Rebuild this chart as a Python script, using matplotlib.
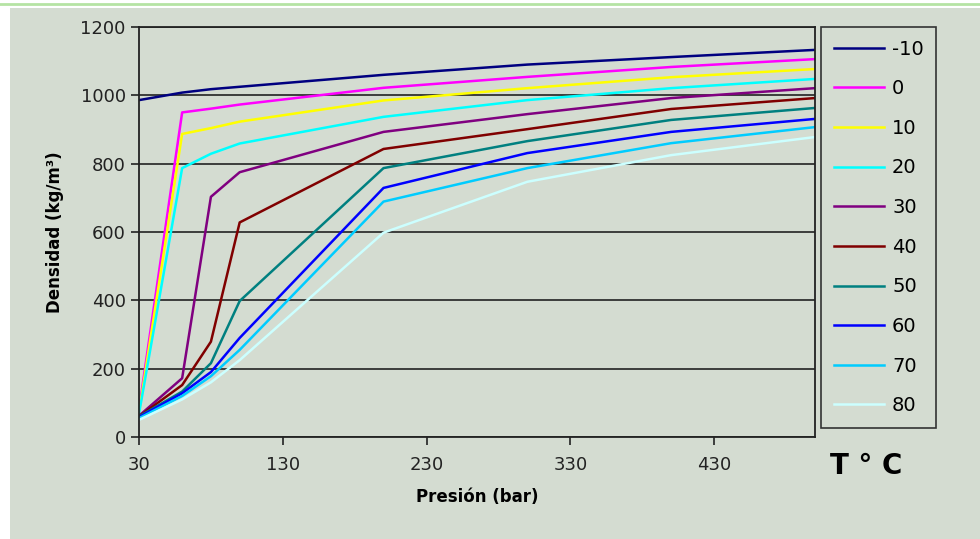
import matplotlib.pyplot as plt
import numpy as np
from matplotlib.patches import Rectangle
from matplotlib.lines import Line2D

# pressure points (bar)
presion = [30, 60, 80, 100, 200, 300, 400, 500]

temps = ['-10', '0', '10', '20', '30', '40', '50', '60', '70', '80']

# density (kg/m3) per temperature
dens_m10 = [986, 1008, 1018, 1025, 1060, 1090, 1112, 1133]
dens_0 = [80, 950, 961, 973, 1022, 1054, 1083, 1106]
dens_10 = [72, 887, 904, 923, 985, 1021, 1053, 1077]
dens_20 = [68, 787, 829, 859, 937, 986, 1021, 1048]
dens_30 = [62, 172, 703, 775, 893, 945, 992, 1021]
dens_40 = [60, 152, 279, 628, 843, 901, 960, 992]
dens_50 = [60, 133, 216, 398, 787, 866, 928, 963]
dens_60 = [58, 128, 190, 290, 729, 831, 893, 931]
dens_70 = [55, 120, 178, 255, 689, 787, 860, 907]
dens_80 = [50, 110, 160, 225, 598, 747, 825, 878]

series = [dens_m10, dens_0, dens_10, dens_20, dens_30,
          dens_40, dens_50, dens_60, dens_70, dens_80]
colores = ['#000080', '#ff00ff', '#ffff00', '#00ffff', '#800080',
           '#800000', '#008080', '#0000ff', '#00ccff', '#ccffff']

bg = '#d4dcd1'

fig = plt.figure(figsize=(9.8, 5.39), dpi=100, facecolor='white')
# slide-like background
fig.patches.append(Rectangle((10/980, 0), 1, 1 - 8/539, transform=fig.transFigure,
                             facecolor=bg, edgecolor='none', zorder=-10))
fig.lines.append(Line2D([0, 1], [1 - 4/539, 1 - 4/539], transform=fig.transFigure,
                        color='#b5e3a4', lw=2))

ax = fig.add_axes([139/980, 102/539, 676/980, 410/539])
ax.set_facecolor(bg)

for vals, c, t in zip(series, colores, temps):
    ax.plot(presion, vals, color=c, lw=1.8, label=t)

ax.set_xlim(30, 500)
ax.set_ylim(0, 1200)
ax.set_xticks([30, 130, 230, 330, 430])
ax.set_yticks(np.arange(0, 1201, 200))
ax.yaxis.grid(True, color='#222222', lw=1.2)
ax.set_axisbelow(True)
for s in ax.spines.values():
    s.set_color('#222222')
    s.set_linewidth(1.3)
ax.tick_params(direction='out', length=6, width=1.2, labelsize=13, colors='#222222')
ax.tick_params(axis='x', pad=8)

ax.set_xlabel('Presión (bar)', fontsize=12, fontweight='bold', labelpad=10)
ax.set_ylabel('Densidad (kg/m³)', fontsize=12, fontweight='bold', labelpad=12)

leg = ax.legend(loc='upper left', bbox_to_anchor=(1.009, 1.0), fontsize=14,
                frameon=True, fancybox=False, edgecolor='#333333', facecolor=bg,
                framealpha=1, labelspacing=1.06, handlelength=2.6,
                handletextpad=0.4, borderpad=0.65, borderaxespad=0)
leg.get_frame().set_linewidth(1.2)

fig.text(866/980, 1 - 466/539, 'T ° C', fontsize=20, fontweight='bold',
         ha='center', va='center')

fig.savefig('out.png', dpi=100, facecolor=fig.get_facecolor())
